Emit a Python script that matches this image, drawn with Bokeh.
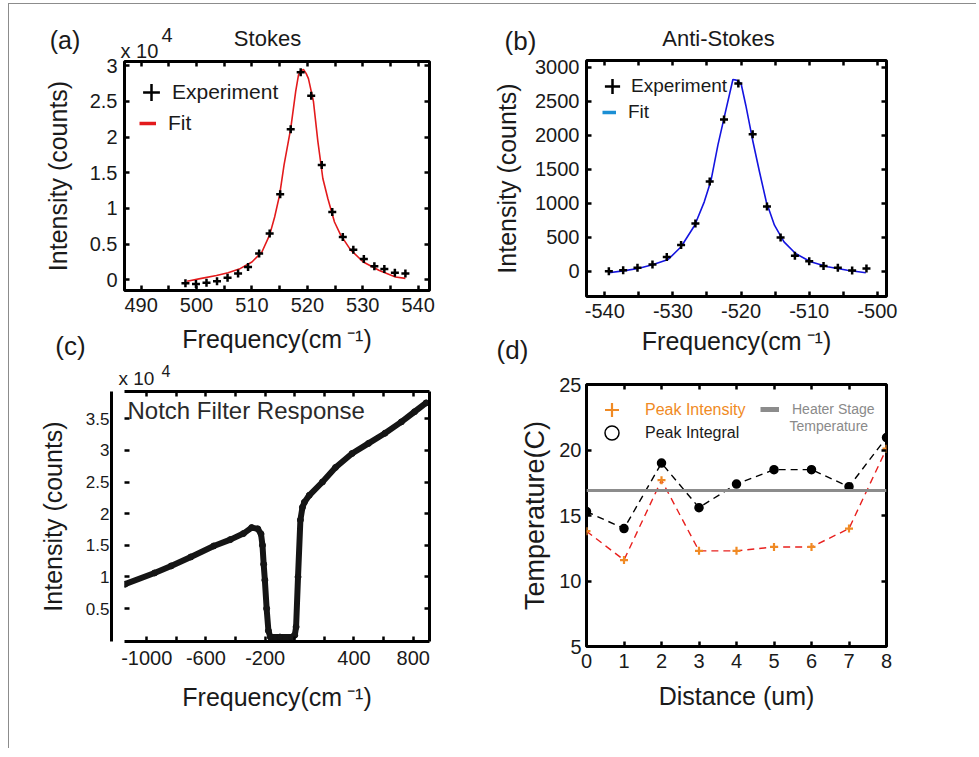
from bokeh.plotting import figure
from bokeh.models import (LinearAxis, Range1d, Label, Legend, LegendItem, FixedTicker,
                          NumeralTickFormatter, CustomJSTickFormatter, Span)
from bokeh.layouts import column, row
from bokeh.core.properties import value
from bokeh.embed import file_html
from bokeh.resources import INLINE

# ---------------------------------------------------------------- data
# (a) Stokes line, intensity in units of 1e4 counts
stokes_freq = [498.0, 499.9, 501.8, 503.7, 505.6, 507.5, 509.3, 511.3, 513.2, 515.1, 517.0,
               518.8, 520.7, 522.6, 524.5, 526.4, 528.3, 530.2, 532.1, 533.9, 535.8, 537.7]
stokes_counts_1e4 = [-0.05, -0.06, -0.04, -0.02, 0.03, 0.09, 0.18, 0.37, 0.65, 1.20, 2.11,
                     2.91, 2.58, 1.61, 0.95, 0.60, 0.42, 0.29, 0.19, 0.15, 0.10, 0.09]
stokes_fit_freq = [498.3, 500.9, 503.6, 505.7, 507.7, 510.0, 511.8, 513.2, 514.1, 515.0,
                   515.8, 517.0, 517.9, 518.4, 518.7, 519.3, 519.8, 520.2, 521.1, 521.9,
                   522.8, 523.7, 524.9, 526.0, 527.8, 530.1, 533.0, 535.9, 537.7]
stokes_fit_counts_1e4 = [-0.02, 0.02, 0.06, 0.10, 0.15, 0.25, 0.39, 0.63, 0.88, 1.19,
                         1.61, 2.12, 2.64, 2.87, 2.92, 2.95, 2.89, 2.82, 2.50, 1.94,
                         1.42, 1.14, 0.81, 0.63, 0.42, 0.25, 0.13, 0.04, 0.02]
stokes_x_ticks = [490, 500, 510, 520, 530, 540]
stokes_y_ticks = [0, 0.5, 1, 1.5, 2, 2.5, 3]

# (b) Anti-Stokes line, counts
antistokes_freq = [-539.4, -537.3, -535.2, -533.0, -530.9, -528.8, -526.7, -524.6, -522.5,
                   -520.4, -518.3, -516.2, -514.2, -512.1, -510.0, -507.9, -505.8, -503.7, -501.6]
antistokes_counts = [0, 15, 50, 100, 210, 385, 700, 1320, 2230,
                     2760, 2015, 950, 495, 228, 145, 76, 52, 12, 40]
antistokes_fit_freq = [-539.4, -537.3, -535.1, -533.0, -530.7, -528.8, -526.8, -525.4, -524.4,
                       -523.4, -522.4, -521.5, -521.2, -520.7, -520.0, -519.3, -518.3, -517.3,
                       -516.3, -515.1, -513.7, -512.0, -509.8, -507.3, -504.4, -501.7]
antistokes_fit_counts = [-24, 5, 40, 95, 172, 359, 676, 1020, 1338,
                         1853, 2294, 2687, 2819, 2809, 2760, 2437, 1926, 1462,
                         1021, 676, 432, 260, 138, 65, 15, -24]
antistokes_x_ticks = [-540, -530, -520, -510, -500]
antistokes_y_ticks = [0, 500, 1000, 1500, 2000, 2500, 3000]

# (c) Notch filter response, intensity in units of 1e4 counts
notch_freq = [-1147, -947, -835, -702, -547, -435, -347, -291, -250, -228,
              -218, -210, -202, -190, -178, -165, -100, -20, 0, 9,
              22, 38, 52, 65, 98, 187, 275, 387, 498, 609,
              720, 809, 887]
notch_counts_1e4 = [0.885, 1.063, 1.174, 1.316, 1.49, 1.59, 1.685, 1.78, 1.76, 1.68,
                    1.50, 1.20, 0.95, 0.50, 0.15, 0.05, 0.05, 0.05, 0.08, 0.21,
                    1.00, 1.90, 2.10, 2.18, 2.29, 2.50, 2.73, 2.95, 3.11, 3.27,
                    3.45, 3.61, 3.75]
notch_x_ticks = [-1000, -800, -600, -400, -200, 0, 200, 400, 600, 800]
notch_x_labelled = [-1000, -600, -200, 400, 800]
notch_y_ticks = [0.5, 1, 1.5, 2, 2.5, 3, 3.5]

# (d) Temperature profile
distance_um = [0, 1, 2, 3, 4, 5, 6, 7, 8]
temp_peak_intensity = [13.8, 11.6, 17.7, 12.3, 12.3, 12.6, 12.6, 14.0, 20.1]
temp_peak_integral = [15.3, 14.0, 19.0, 15.6, 17.4, 18.5, 18.5, 17.2, 20.95]
heater_stage_temp = 16.9
temp_x_ticks = [0, 1, 2, 3, 4, 5, 6, 7, 8]
temp_y_ticks = [5, 10, 15, 20, 25]

# ---------------------------------------------------------------- style helpers
FONT = "Liberation Sans"
TXT = "#1a1a1a"


def base_fig(w, h, xr, yr, left, top, right, bottom):
    p = figure(width=w, height=h, x_range=Range1d(*xr), y_range=Range1d(*yr),
               output_backend="svg", toolbar_location=None, title=None,
               min_border_left=left, min_border_top=top,
               min_border_right=right, min_border_bottom=bottom,
               background_fill_color="white", border_fill_color="white")
    p.xgrid.visible = False
    p.ygrid.visible = False
    p.outline_line_color = "black"
    p.outline_line_width = 3
    return p


def style_ticks(ax):
    ax.axis_line_color = None
    ax.major_tick_in = 5
    ax.major_tick_out = 0
    ax.major_tick_line_width = 2.5
    ax.major_tick_line_color = "black"
    ax.minor_tick_in = 5
    ax.minor_tick_out = 0
    ax.minor_tick_line_width = 2.5
    ax.minor_tick_line_color = "black"


def style_labels(ax, tick_size, standoff, label, label_size, label_standoff, formatter=None):
    if formatter is not None:
        ax.formatter = formatter
    ax.major_label_text_font = FONT
    ax.major_label_text_font_size = f"{tick_size}px"
    ax.major_label_text_color = TXT
    ax.major_label_standoff = standoff
    ax.axis_label = label
    ax.axis_label_text_font = FONT
    ax.axis_label_text_font_style = "normal"
    ax.axis_label_text_font_size = f"{label_size}px"
    ax.axis_label_text_color = TXT
    ax.axis_label_standoff = label_standoff


def style_axis(ax, ticker, tick_size, standoff, label, label_size, label_standoff, formatter=None):
    style_ticks(ax)
    ax.ticker = ticker
    style_labels(ax, tick_size, standoff, label, label_size, label_standoff, formatter)


def blank_axis(ax, line=False):
    style_ticks(ax)
    ax.formatter = CustomJSTickFormatter(code="return ''")
    ax.major_label_text_font_size = "1px"
    ax.major_label_standoff = 0
    if line:
        ax.axis_line_color = "black"
        ax.axis_line_width = 3


def mirror_axes(p, xticker, yticker, line=False):
    top = LinearAxis(ticker=xticker)
    right = LinearAxis(ticker=yticker)
    blank_axis(top, line=line)
    blank_axis(right, line=line)
    p.add_layout(top, "above")
    p.add_layout(right, "right")


def text(p, x, y, s, size, color=TXT, align="left", side="center"):
    lab = Label(x=x, y=y, x_units="canvas", y_units="canvas", text=s,
                text_font=FONT, text_font_size=f"{size}px", text_color=color,
                text_align=align, text_baseline="middle")
    if side == "center":
        p.add_layout(lab)
    else:
        p.add_layout(lab, side)


def legend(p, label, renderers, gw, gh, loc, standoff, size, color=TXT):
    p.add_layout(Legend(items=[LegendItem(label=value(label), renderers=renderers)],
                        location=loc, glyph_width=gw, glyph_height=gh, label_height=gh,
                        label_standoff=standoff, label_text_font=FONT,
                        label_text_font_size=f"{size}px", label_text_color=color,
                        padding=0, margin=0, spacing=0,
                        border_line_alpha=0, background_fill_alpha=0))


def mids(ticks):
    return [(a + b) / 2 for a, b in zip(ticks[:-1], ticks[1:])]


FREQ_LABEL = "Frequency(cm\u2009\u207b\u00b9)"

# ---------------------------------------------------------------- (a) Stokes
pa = base_fig(481, 356, (487.0, 542.05), (-0.15, 3.06), 111, 57, 55, 70)
xt_a = FixedTicker(ticks=stokes_x_ticks, minor_ticks=mids(stokes_x_ticks))
yt_a = FixedTicker(ticks=stokes_y_ticks)
style_axis(pa.xaxis[0], xt_a, 20, 7, FREQ_LABEL, 25, 10)
style_axis(pa.yaxis[0], yt_a, 20, 7, "Intensity (counts)", 25, 15,
           NumeralTickFormatter(format="0.[0]"))
mirror_axes(pa, xt_a, yt_a)
fit_a = pa.line(stokes_fit_freq, stokes_fit_counts_1e4, line_color="#e31a1c", line_width=1.6)
fit_a_leg = pa.line(stokes_fit_freq, stokes_fit_counts_1e4, line_color="#e31a1c",
                    line_width=3.5, visible=False)
exp_a = pa.scatter(stokes_freq, stokes_counts_1e4, marker="cross", size=8,
                   line_color="black", line_width=2.5)
legend(pa, "Experiment", [exp_a], 42, 42, (6, 177), 0, 21)
legend(pa, "Fit", [fit_a_leg], 17, 26, (15, 154), 12, 21)
text(pa, 55.5, 35, "(a)", 25, align="center", side="left")
text(pa, 258, 34, "Stokes", 22, align="center", side="above")
text(pa, 111, 46, "x 10", 20, side="above")
text(pa, 152, 30, "4", 20, side="right")
text(pa, 61, 341, "(c)", 26, align="center", side="right")

# ---------------------------------------------------------------- (b) Anti-Stokes
pb = base_fig(486, 364, (-542.68, -498.66), (-372, 3098), 95, 56, 90, 72)
xt_b = FixedTicker(ticks=antistokes_x_ticks, minor_ticks=mids(antistokes_x_ticks))
yt_b = FixedTicker(ticks=antistokes_y_ticks)
style_axis(pb.xaxis[0], xt_b, 20, 7, FREQ_LABEL, 25, 6, NumeralTickFormatter(format="0"))
style_axis(pb.yaxis[0], yt_b, 20, 7, "Intensity (counts)", 25, 11,
           NumeralTickFormatter(format="0"))
mirror_axes(pb, xt_b, yt_b)
fit_b = pb.line(antistokes_fit_freq, antistokes_fit_counts, line_color="#1414e0", line_width=1.6)
fit_b_leg = pb.line(antistokes_fit_freq, antistokes_fit_counts, line_color="#1b8fd4",
                    line_width=3.5, visible=False)
exp_b = pb.scatter(antistokes_freq, antistokes_counts, marker="cross", size=8,
                   line_color="black", line_width=2.5)
legend(pb, "Experiment", [exp_b], 38, 38, (7, 191), 0, 19)
legend(pb, "Fit", [fit_b_leg], 14, 24, (16, 172), 12, 19)
text(pb, 30, 36, "(b)", 26, align="center", side="right")
text(pb, 228, 34, "Anti-Stokes", 22, align="center", side="above")
text(pb, 22, 345, "(d)", 26, align="center", side="right")

# ---------------------------------------------------------------- (c) Notch filter
NOTCH_X = (-1150.0, 910.0)
pc = base_fig(481, 388, NOTCH_X, (-0.02, 3.93), 110, 31, 61, 107)
pc.outline_line_color = None
xt_c = FixedTicker(ticks=notch_x_ticks)
yt_c = FixedTicker(ticks=notch_y_ticks)
style_axis(pc.xaxis[0], xt_c, 20, 9, FREQ_LABEL, 25, 15,
           CustomJSTickFormatter(args=dict(shown=notch_x_labelled),
                                 code="return shown.includes(tick) ? tick.toFixed(0) : ''"))
pc.xaxis[0].axis_line_color = "black"
pc.xaxis[0].axis_line_width = 3
# inner left axis: only the inward tick marks; its invisible (space) labels leave a 10px gap
inner = pc.yaxis[0]
inner.ticker = yt_c
style_ticks(inner)
inner.formatter = CustomJSTickFormatter(code="return '\\u00a0\\u00a0\\u00a0\\u00a0'")
inner.major_label_text_font = FONT
inner.major_label_text_font_size = "9px"
inner.major_label_standoff = 0
# outer left axis: detached vertical axis line, tick labels and title
yaxis_c = LinearAxis(ticker=yt_c)
yaxis_c.axis_line_color = "black"
yaxis_c.axis_line_width = 3
yaxis_c.major_tick_in = 0
yaxis_c.major_tick_out = 0
yaxis_c.minor_tick_in = 0
yaxis_c.minor_tick_out = 0
style_labels(yaxis_c, 17, 2, "Intensity (counts)", 25, 16,
             NumeralTickFormatter(format="0.[0]"))
pc.add_layout(yaxis_c, "left")
mirror_axes(pc, xt_c, yt_c, line=True)
pc.line(notch_freq, notch_counts_1e4, line_color="#151515", line_width=6,
        line_join="round", line_cap="round")
pc.scatter(notch_freq, notch_counts_1e4, marker="circle", size=6, color="#151515")
text(pc, 118, 50, "Notch Filter Response", 24, color="#2a2a2a")
text(pc, 109, 18, "x 10", 19, side="above")
text(pc, 152, 10, "4", 16, side="right")

# ---------------------------------------------------------------- (d) Temperature
pd_ = base_fig(486, 380, (0, 8), (5, 25), 93, 16, 86, 102)
xt_d = FixedTicker(ticks=temp_x_ticks)
yt_d = FixedTicker(ticks=temp_y_ticks)
style_axis(pd_.xaxis[0], xt_d, 20, 7, "Distance (um)", 25, 11)
style_axis(pd_.yaxis[0], yt_d, 20, 5, "Temperature(C)", 27, 6)
mirror_axes(pd_, xt_d, yt_d)
pd_.add_layout(Span(location=heater_stage_temp, dimension="width",
                    line_color="#8c8c8c", line_width=3))
heater_leg = pd_.line(distance_um, [heater_stage_temp] * len(distance_um),
                      line_color="#8c8c8c", line_width=5, visible=False)
pd_.line(distance_um, temp_peak_integral, line_color="black", line_width=1.4,
         line_dash="7 5")
pd_.line(distance_um, temp_peak_intensity, line_color="#e8201e", line_width=1.4,
         line_dash="7 5")
integ = pd_.scatter(distance_um, temp_peak_integral, marker="circle", size=8,
                    fill_color="black", line_color="black", line_width=1.5)
integ_leg = pd_.scatter(distance_um, temp_peak_integral, marker="circle", size=8,
                        fill_color="white", line_color="black", line_width=1.5, visible=False)
inten = pd_.scatter(distance_um, temp_peak_intensity, marker="cross", size=8,
                    line_color="#f08a24", line_width=2.2)
legend(pd_, "Peak Intensity", [inten], 35, 35, (8, 219), 16, 16, color="#f08a24")
legend(pd_, "Peak Integral", [integ_leg], 35, 35, (8, 196), 16, 16)
legend(pd_, "Heater Stage", [heater_leg], 19, 20, (174, 227), 13, 14, color="#8a8a8a")
text(pd_, 299, 57, "Temperature", 14, color="#8a8a8a")

layout = row(column(pa, pc), column(pb, pd_),
             styles={"margin-left": "8px", "margin-top": "3px",
                     "border-left": "1px solid #8c8c8c", "border-top": "1px solid #8c8c8c"})

open("out.html", "w").write(file_html(layout, INLINE))
